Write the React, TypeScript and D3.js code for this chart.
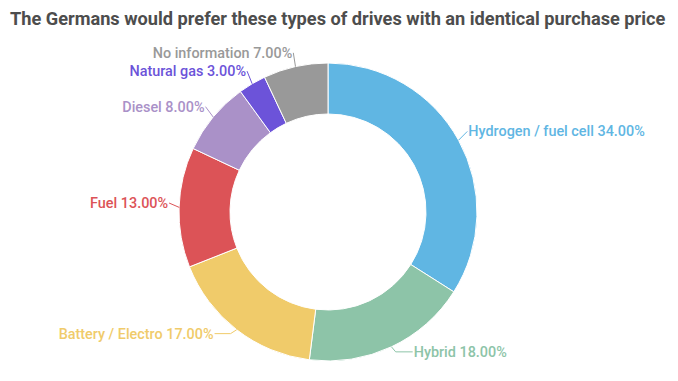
import React from "react";
import * as d3 from "d3";

const categories = [
  "Hydrogen / fuel cell",
  "Hybrid",
  "Battery / Electro",
  "Fuel",
  "Diesel",
  "Natural gas",
  "No information",
];
const values = [34, 18, 17, 13, 8, 3, 7];
const colors = ["#60b6e3", "#8dc4a8", "#f0cb6a", "#dc5357", "#aa91c8", "#6c53d9", "#999999"];
const title = "The Germans would prefer these types of drives with an identical purchase price";

const W = 678;
const H = 381;
const cx = 328;
const cy = 212;
const outerR = 149;
const innerR = 98;

export default function App() {
  const data = categories.map((c, i) => ({ name: c, value: values[i], color: colors[i] }));
  const pie = d3.pie<any>().value((d) => d.value).sort(null).startAngle(0).endAngle(2 * Math.PI);
  const arcs = pie(data);
  const arc = d3.arc<any>().innerRadius(innerR).outerRadius(outerR);
  const pt = (r: number, a: number) => [r * Math.sin(a), -r * Math.cos(a)];

  return (
    <svg width={W} height={H} style={{ position: "absolute", left: 0, top: 0 }}>
      <rect width={W} height={H} fill="#fff" />
      <text x={10} y={25} fontFamily="Roboto" fontWeight="bold" fontSize={18.2} fill="#4d4d4d">
        {title}
      </text>
      <g transform={`translate(${cx},${cy})`}>
        {arcs.map((a, i) => (
          <path key={i} d={arc(a) || ""} fill={a.data.color} stroke="#fff" strokeWidth={1} />
        ))}
        {arcs.map((a, i) => {
          const mid = (a.startAngle + a.endAngle) / 2;
          const p0 = pt(outerR, mid);
          const p1 = pt(outerR + 10, mid);
          const right = Math.sin(mid) >= 0;
          const bottom = Math.cos(mid) < -0.5;
          const p2 = [p1[0], p1[1] - 4];
          const p3 = [p2[0] + (bottom ? (right ? 17 : -16) : 0), p2[1]];
          const tx = p3[0] + (right ? 1 : -1);
          return (
            <g key={"l" + i}>
              <polyline
                points={`${p0[0]},${p0[1]} ${p2[0]},${p2[1]} ${p3[0]},${p3[1]}`}
                fill="none"
                stroke={a.data.color}
                strokeWidth={1}
              />
              <text
                x={tx}
                y={p3[1]}
                dy="0.35em"
                textAnchor={right ? "start" : "end"}
                fontFamily="Roboto"
                fontWeight={500}
                fontSize={14.4}
                fill={a.data.color}
              >
                {`${a.data.name} ${a.data.value.toFixed(2)}%`}
              </text>
            </g>
          );
        })}
      </g>
    </svg>
  );
}
